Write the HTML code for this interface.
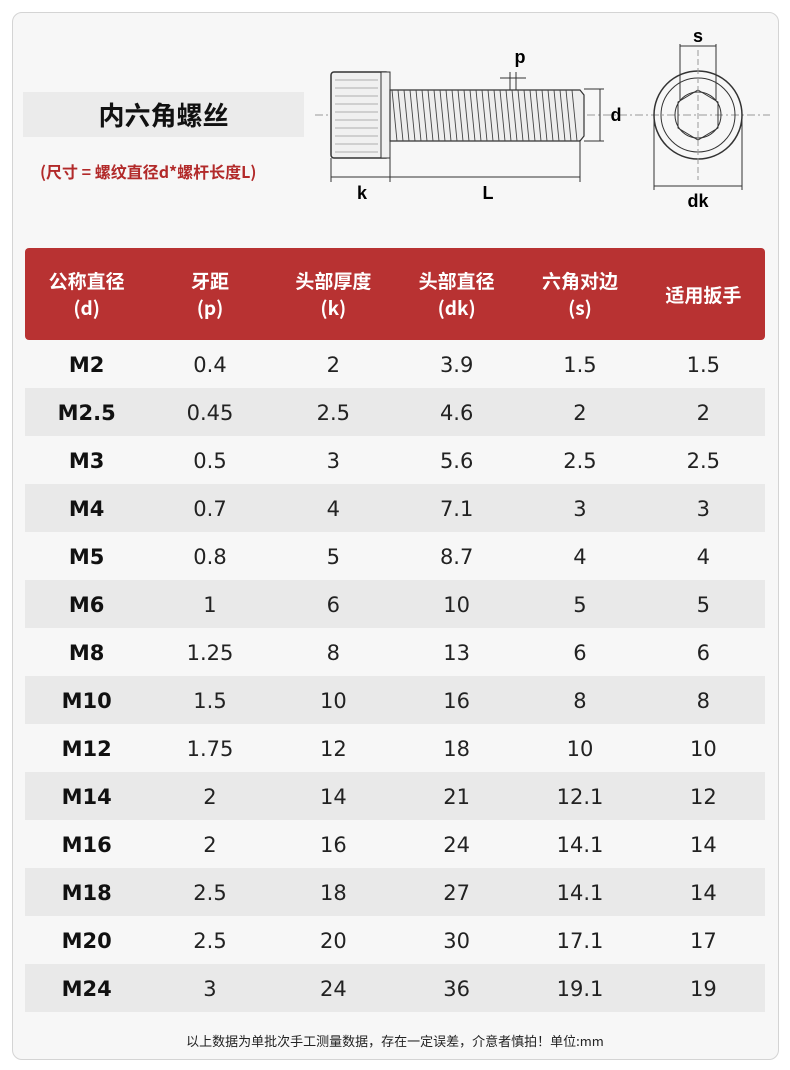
<!DOCTYPE html>
<html><head><meta charset="utf-8"><style>
body{margin:0;width:790px;height:1070px;background:#fff;font-family:"DejaVu Sans","Noto Sans CJK SC",sans-serif;position:relative;overflow:hidden}
.card{position:absolute;left:12px;top:12px;width:765px;height:1046px;border:1px solid #d4d4d4;border-radius:10px;background:#f7f7f7}
.title{position:absolute;left:23px;top:92px;width:281px;height:45px;background:#ebebeb;font:bold 26px "Noto Sans CJK SC",sans-serif;color:#111;text-align:center;line-height:45px}
.sub{position:absolute;left:40px;top:159px;font:bold 16px "Noto Sans CJK SC",sans-serif;color:#b22a2a}
table{position:absolute;left:25px;top:248px;width:740px;border-collapse:collapse;table-layout:fixed}
th{background:#b83232;color:#fff;height:92px;font:bold 19px "Noto Sans CJK SC","DejaVu Sans",sans-serif;line-height:27px;padding:0}
thead tr th:first-child{border-radius:4px 0 0 4px}
thead tr th:last-child{border-radius:0 4px 4px 0}
td{height:48px;padding:0;text-align:center;font-size:21px;color:#222;padding-top:2px;box-sizing:border-box}
td:first-child{font-weight:bold;color:#111}
tbody tr:nth-child(even) td{background:#e9e9e9}
.foot{position:absolute;left:0;width:790px;top:1031px;text-align:center;font:13px "Noto Sans CJK SC",sans-serif;color:#222}
</style></head><body>
<div class="card"></div>
<div class="title">内六角螺丝</div>
<div class="sub">(尺寸 = 螺纹直径d*螺杆长度L)</div>
<svg style="position:absolute;left:0;top:0" width="790" height="240" font-family="Liberation Sans,sans-serif" font-weight="bold" font-size="18">
<line x1="315" y1="115" x2="770" y2="115" stroke="#999" stroke-dasharray="8,3,2,3"/>
<rect x="331" y="72" width="58" height="86" rx="3" fill="#f0f0f0" stroke="#333" stroke-width="1.5"/>
<rect x="381" y="72" width="9" height="86" fill="#f0f0f0" stroke="#333"/>
<g stroke="#999" stroke-width="0.8">
<line x1="335" y1="80" x2="378" y2="80"/><line x1="335" y1="88" x2="378" y2="88"/><line x1="335" y1="96" x2="378" y2="96"/><line x1="335" y1="104" x2="378" y2="104"/><line x1="335" y1="112" x2="378" y2="112"/><line x1="335" y1="120" x2="378" y2="120"/><line x1="335" y1="128" x2="378" y2="128"/><line x1="335" y1="136" x2="378" y2="136"/><line x1="335" y1="144" x2="378" y2="144"/><line x1="335" y1="152" x2="378" y2="152"/></g>
<path d="M390 90 L580 90 L584 95 L584 136 L580 141 L390 141 Z" fill="#eee" stroke="#333" stroke-width="1.2"/>
<g stroke="#444" stroke-width="0.9"><path d="M392 90 l5 51 M398 90 l5 51 M404 90 l5 51 M410 90 l5 51 M416 90 l5 51 M422 90 l5 51 M428 90 l5 51 M434 90 l5 51 M440 90 l5 51 M446 90 l5 51 M452 90 l5 51 M458 90 l5 51 M464 90 l5 51 M470 90 l5 51 M476 90 l5 51 M482 90 l5 51 M488 90 l5 51 M494 90 l5 51 M500 90 l5 51 M506 90 l5 51 M512 90 l5 51 M518 90 l5 51 M524 90 l5 51 M530 90 l5 51 M536 90 l5 51 M542 90 l5 51 M548 90 l5 51 M554 90 l5 51 M560 90 l5 51 M566 90 l5 51 M572 90 l5 51"/></g>
<g stroke="#333" stroke-width="1" fill="none">
<line x1="584" y1="89" x2="604" y2="89"/><line x1="584" y1="141" x2="604" y2="141"/><line x1="600" y1="89" x2="600" y2="141"/>
<line x1="331" y1="158" x2="331" y2="182"/><line x1="390" y1="158" x2="390" y2="182"/><line x1="580" y1="140" x2="580" y2="182"/>
<line x1="331" y1="177" x2="580" y2="177"/>
<line x1="510" y1="72" x2="510" y2="90"/><line x1="516" y1="72" x2="516" y2="90"/><line x1="500" y1="78" x2="526" y2="78"/>
<circle cx="698" cy="115" r="44" stroke-width="1.5"/><circle cx="698" cy="115" r="37"/><circle cx="698" cy="115" r="23"/>
<polygon points="698,90 718,102 718,128 698,140 678,128 678,102"/>
<line x1="680" y1="44" x2="680" y2="100"/><line x1="716" y1="44" x2="716" y2="100"/><line x1="680" y1="46" x2="716" y2="46"/>
<line x1="654" y1="120" x2="654" y2="190"/><line x1="742" y1="120" x2="742" y2="190"/><line x1="654" y1="186" x2="742" y2="186"/>
<line x1="698" y1="50" x2="698" y2="180" stroke="#999" stroke-dasharray="6,3"/>
</g>
<text x="520" y="63" text-anchor="middle">p</text>
<text x="616" y="121" text-anchor="middle">d</text>
<text x="362" y="199" text-anchor="middle">k</text>
<text x="488" y="199" text-anchor="middle">L</text>
<text x="698" y="42" text-anchor="middle">s</text>
<text x="698" y="207" text-anchor="middle">dk</text>
</svg>
<table>
<thead><tr><th>公称直径<br>(d)</th><th>牙距<br>(p)</th><th>头部厚度<br>(k)</th><th>头部直径<br>(dk)</th><th>六角对边<br>(s)</th><th>适用扳手</th></tr></thead>
<tbody>
<tr><td>M2</td><td>0.4</td><td>2</td><td>3.9</td><td>1.5</td><td>1.5</td></tr>
<tr><td>M2.5</td><td>0.45</td><td>2.5</td><td>4.6</td><td>2</td><td>2</td></tr>
<tr><td>M3</td><td>0.5</td><td>3</td><td>5.6</td><td>2.5</td><td>2.5</td></tr>
<tr><td>M4</td><td>0.7</td><td>4</td><td>7.1</td><td>3</td><td>3</td></tr>
<tr><td>M5</td><td>0.8</td><td>5</td><td>8.7</td><td>4</td><td>4</td></tr>
<tr><td>M6</td><td>1</td><td>6</td><td>10</td><td>5</td><td>5</td></tr>
<tr><td>M8</td><td>1.25</td><td>8</td><td>13</td><td>6</td><td>6</td></tr>
<tr><td>M10</td><td>1.5</td><td>10</td><td>16</td><td>8</td><td>8</td></tr>
<tr><td>M12</td><td>1.75</td><td>12</td><td>18</td><td>10</td><td>10</td></tr>
<tr><td>M14</td><td>2</td><td>14</td><td>21</td><td>12.1</td><td>12</td></tr>
<tr><td>M16</td><td>2</td><td>16</td><td>24</td><td>14.1</td><td>14</td></tr>
<tr><td>M18</td><td>2.5</td><td>18</td><td>27</td><td>14.1</td><td>14</td></tr>
<tr><td>M20</td><td>2.5</td><td>20</td><td>30</td><td>17.1</td><td>17</td></tr>
<tr><td>M24</td><td>3</td><td>24</td><td>36</td><td>19.1</td><td>19</td></tr>
</tbody></table>
<div class="foot">以上数据为单批次手工测量数据，存在一定误差，介意者慎拍！单位:mm</div>
</body></html>
